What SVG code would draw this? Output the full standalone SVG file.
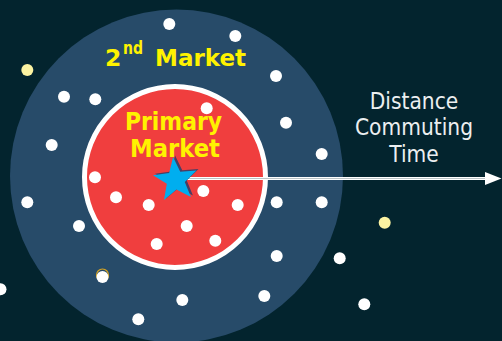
<svg xmlns="http://www.w3.org/2000/svg" width="502" height="341" viewBox="0 0 502 341">
  <style>
    .dot { fill: #FFFFFF; }
    .pale { fill: #FBF3A2; }
    .ylw { fill: #FFF200; font-family: "DejaVu Sans", Verdana, sans-serif; font-weight: bold; }
    .ylwc { fill: #FFF200; font-family: "DejaVu Sans Condensed", "DejaVu Sans", sans-serif; font-weight: bold; font-size: 25px; }
    .lbl { fill: #ECEFF0; font-family: "DejaVu Sans Condensed", "DejaVu Sans", sans-serif; font-size: 22.5px; text-anchor: middle; }
  </style>
  <rect x="0" y="0" width="502" height="341" fill="#03242E"/>

  <g id="second-market">
    <circle cx="176.5" cy="176" r="166.5" fill="#274B69"/>
    <text class="ylw" x="105" y="66" font-size="23.5">2</text>
    <text class="ylw" x="123" y="54" font-size="17" textLength="20" lengthAdjust="spacingAndGlyphs">nd</text>
    <text class="ylw" x="155" y="66" font-size="23.5" textLength="91" lengthAdjust="spacingAndGlyphs">Market</text>
  </g>

  <g id="primary-market">
    <circle cx="175" cy="177" r="90.5" fill="#F03E3E" stroke="#FFFFFF" stroke-width="5"/>
    <text class="ylwc" x="125" y="130" textLength="97" lengthAdjust="spacingAndGlyphs">Primary</text>
    <text class="ylwc" x="130" y="157" textLength="90" lengthAdjust="spacingAndGlyphs">Market</text>
  </g>

  <g id="dots">
    <circle class="pale" cx="27.3" cy="70" r="6"/>
    <circle class="pale" cx="384.7" cy="222.7" r="6"/>
    <circle cx="102.5" cy="275" r="6" fill="none" stroke="#D9A623" stroke-width="1.2"/>
    <circle class="dot" cx="169.3" cy="24" r="6"/>
    <circle class="dot" cx="235.3" cy="36" r="6"/>
    <circle class="dot" cx="64" cy="96.7" r="6"/>
    <circle class="dot" cx="95.3" cy="99.3" r="6"/>
    <circle class="dot" cx="206.7" cy="108.3" r="6"/>
    <circle class="dot" cx="51.7" cy="145" r="6"/>
    <circle class="dot" cx="276" cy="76" r="6"/>
    <circle class="dot" cx="286" cy="122.7" r="6"/>
    <circle class="dot" cx="321.7" cy="154" r="6"/>
    <circle class="dot" cx="95" cy="177.3" r="6"/>
    <circle class="dot" cx="27.3" cy="202.3" r="6"/>
    <circle class="dot" cx="116" cy="197.3" r="6"/>
    <circle class="dot" cx="148.7" cy="205" r="6"/>
    <circle class="dot" cx="203.3" cy="191" r="6"/>
    <circle class="dot" cx="237.7" cy="205" r="6"/>
    <circle class="dot" cx="79" cy="226" r="6"/>
    <circle class="dot" cx="186.7" cy="226" r="6"/>
    <circle class="dot" cx="156.7" cy="244" r="6"/>
    <circle class="dot" cx="215.3" cy="240.7" r="6"/>
    <circle class="dot" cx="102.5" cy="277" r="6"/>
    <circle class="dot" cx="0.5" cy="289.3" r="6"/>
    <circle class="dot" cx="182.3" cy="300" r="6"/>
    <circle class="dot" cx="138.3" cy="319.3" r="6"/>
    <circle class="dot" cx="276.7" cy="202.3" r="6"/>
    <circle class="dot" cx="321.7" cy="202.3" r="6"/>
    <circle class="dot" cx="276.7" cy="256" r="6"/>
    <circle class="dot" cx="339.7" cy="258.3" r="6"/>
    <circle class="dot" cx="264.3" cy="296" r="6"/>
    <circle class="dot" cx="364.3" cy="304.3" r="6"/>
  </g>

  <g id="connectors">
    <line x1="176" y1="178.5" x2="487" y2="178.5" stroke="#FFFFFF" stroke-width="3"/>
    <line x1="176" y1="178.5" x2="487" y2="178.5" stroke="#A9B4B8" stroke-width="0.8"/>
    <polygon points="485,172 501.5,178.5 485,185" fill="#FFFFFF"/>
  </g>

  <g id="star">
    <path d="M175.1,155.6 L182.25,170.27 L198.5,169.1 L186.79,180.48 L192.9,195.6 L178.49,187.95 L166,198.4 L168.82,182.36 L155,173.7 L171.14,171.44 Z" fill="#1E3F6E" opacity="0.8"/>
    <path d="M173.1,157.1 L180.25,171.77 L196.5,170.6 L184.79,181.98 L190.9,197.1 L176.49,189.45 L164,199.9 L166.82,183.86 L153,175.2 L169.14,172.94 Z" fill="#00AEEF"/>
  </g>

  <g id="axis-label">
    <text class="lbl" x="414" y="108.5">Distance</text>
    <text class="lbl" x="414" y="135">Commuting</text>
    <text class="lbl" x="414" y="161.5">Time</text>
  </g>
</svg>
